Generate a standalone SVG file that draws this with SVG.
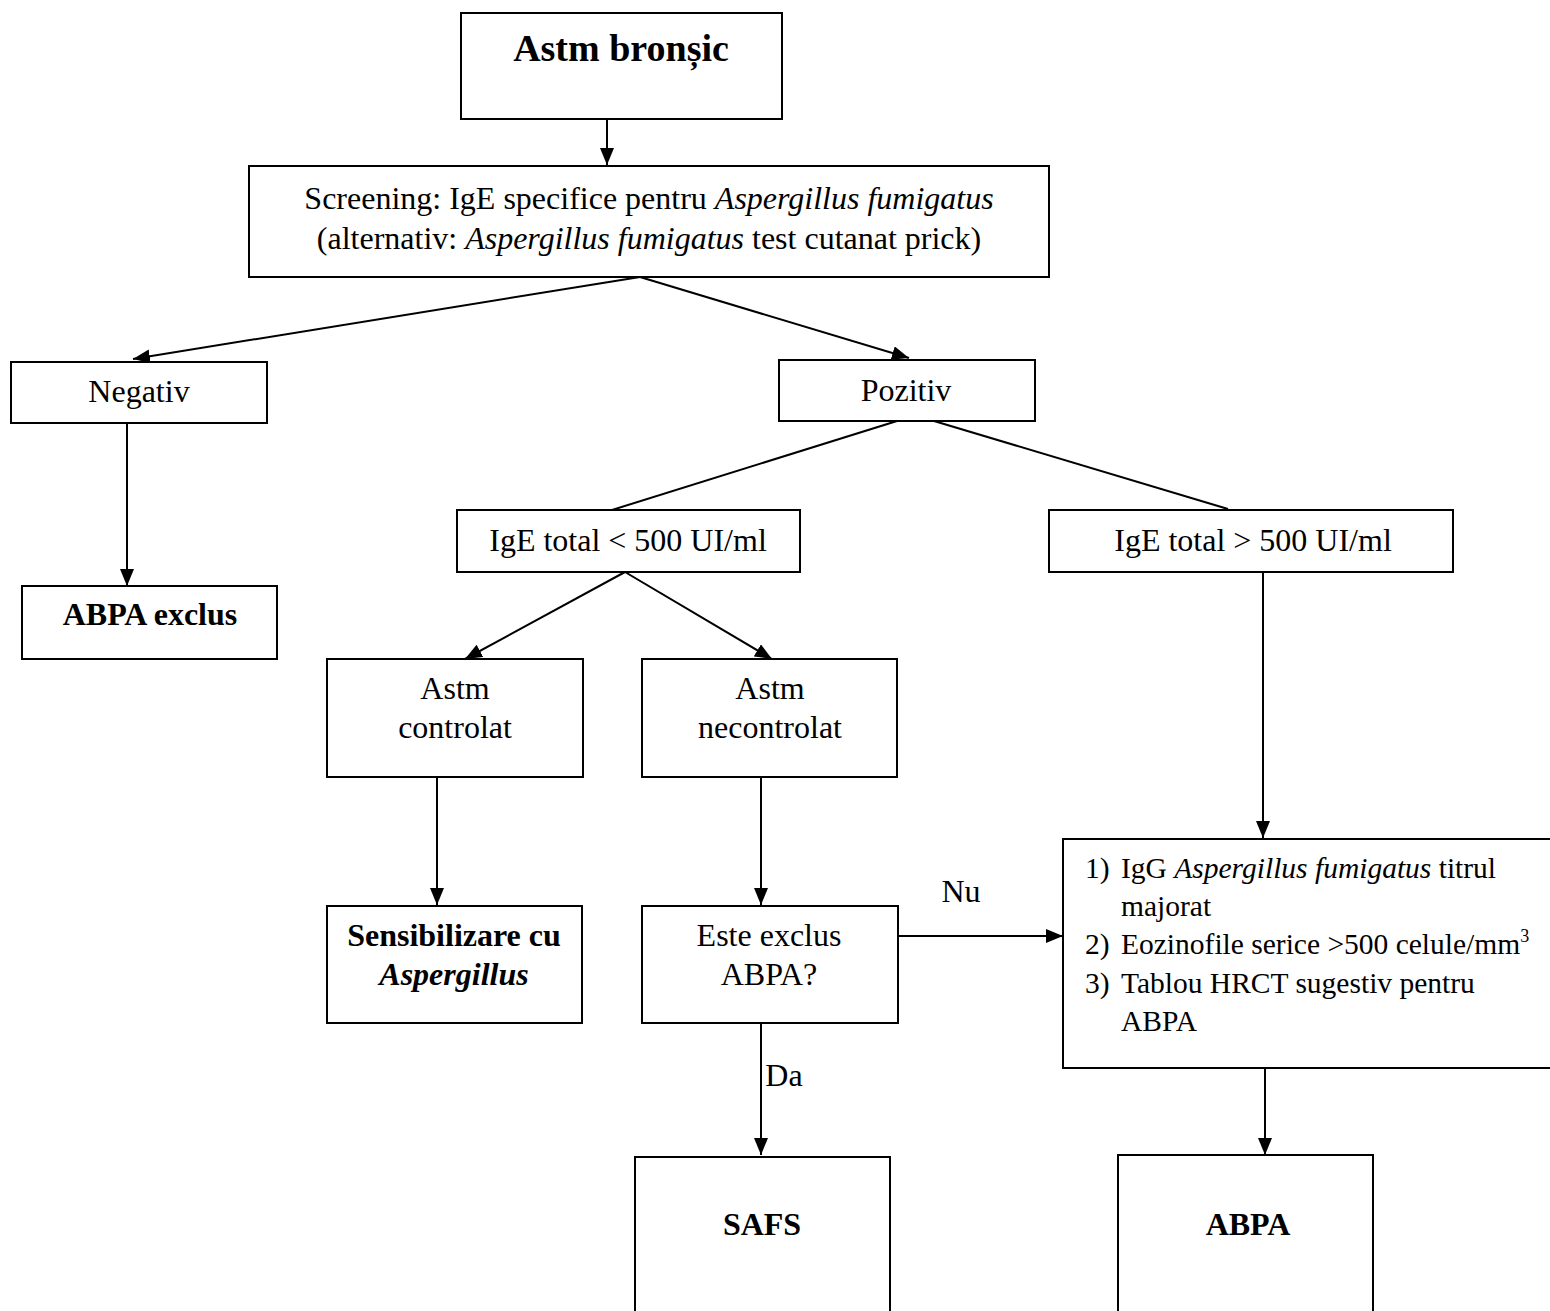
<svg xmlns="http://www.w3.org/2000/svg" width="1550" height="1311" viewBox="0 0 1550 1311">
<style>
.box{fill:#fff;stroke:#000;stroke-width:2}
.t{font-family:"Liberation Serif","Times New Roman",serif;font-size:32px;fill:#000;text-anchor:middle}
.b{font-weight:bold}
.i{font-style:italic}
.c{font-family:"Liberation Serif","Times New Roman",serif;font-size:29.5px;fill:#000}
.ln{stroke:#000;stroke-width:2;fill:none}
</style>
<defs>
<marker id="ah" markerUnits="userSpaceOnUse" markerWidth="17" markerHeight="14" refX="17" refY="7" orient="auto">
<path d="M0,0 L17,7 L0,14 z" fill="#000"/>
</marker>
</defs>
<rect width="1550" height="1311" fill="#fff"/>
<g id="connectors">
<line class="ln" x1="607" y1="119" x2="607" y2="165" marker-end="url(#ah)"/>
<line class="ln" x1="640" y1="277" x2="133" y2="359" marker-end="url(#ah)"/>
<line class="ln" x1="640" y1="277" x2="909" y2="358" marker-end="url(#ah)"/>
<line class="ln" x1="127" y1="423" x2="127" y2="586" marker-end="url(#ah)"/>
<line class="ln" x1="897" y1="421" x2="612" y2="510"/>
<line class="ln" x1="934" y1="421" x2="1228" y2="509"/>
<line class="ln" x1="625" y1="572" x2="465" y2="659" marker-end="url(#ah)"/>
<line class="ln" x1="625" y1="572" x2="772" y2="659" marker-end="url(#ah)"/>
<line class="ln" x1="437" y1="777" x2="437" y2="905" marker-end="url(#ah)"/>
<line class="ln" x1="761" y1="777" x2="761" y2="905" marker-end="url(#ah)"/>
<line class="ln" x1="1263" y1="572" x2="1263" y2="838" marker-end="url(#ah)"/>
<line class="ln" x1="897" y1="936" x2="1063" y2="936" marker-end="url(#ah)"/>
<line class="ln" x1="761" y1="1023" x2="761" y2="1155" marker-end="url(#ah)"/>
<line class="ln" x1="1265" y1="1068" x2="1265" y2="1155" marker-end="url(#ah)"/>
<text class="t" x="961" y="902">Nu</text>
<text class="t" x="784" y="1086">Da</text>
</g>
<g id="n-astm">
<rect class="box" x="461" y="13" width="321" height="106"/>
<text class="t b" x="621" y="61" style="font-size:38px">Astm bronșic</text>
</g>
<g id="n-screening">
<rect class="box" x="249" y="166" width="800" height="111"/>
<text class="t" x="649" y="209">Screening: IgE specifice pentru <tspan class="i">Aspergillus fumigatus</tspan></text>
<text class="t" x="649" y="249">(alternativ: <tspan class="i">Aspergillus fumigatus</tspan> test cutanat prick)</text>
</g>
<g id="n-negativ">
<rect class="box" x="11" y="362" width="256" height="61"/>
<text class="t" x="139" y="402">Negativ</text>
</g>
<g id="n-pozitiv">
<rect class="box" x="779" y="360" width="256" height="61"/>
<text class="t" x="906" y="401">Pozitiv</text>
</g>
<g id="n-abpa-exclus">
<rect class="box" x="22" y="586" width="255" height="73"/>
<text class="t b" x="150" y="625">ABPA exclus</text>
</g>
<g id="n-ige-low">
<rect class="box" x="457" y="510" width="343" height="62"/>
<text class="t" x="628" y="551">IgE total &lt; 500 UI/ml</text>
</g>
<g id="n-ige-high">
<rect class="box" x="1049" y="510" width="404" height="62"/>
<text class="t" x="1253" y="551">IgE total &gt; 500 UI/ml</text>
</g>
<g id="n-controlat">
<rect class="box" x="327" y="659" width="256" height="118"/>
<text class="t" x="455" y="699">Astm</text>
<text class="t" x="455" y="738">controlat</text>
</g>
<g id="n-necontrolat">
<rect class="box" x="642" y="659" width="255" height="118"/>
<text class="t" x="770" y="699">Astm</text>
<text class="t" x="770" y="738">necontrolat</text>
</g>
<g id="n-sensibilizare">
<rect class="box" x="327" y="906" width="255" height="117"/>
<text class="t b" x="454" y="946">Sensibilizare cu</text>
<text class="t b i" x="454" y="985">Aspergillus</text>
</g>
<g id="n-este-exclus">
<rect class="box" x="642" y="906" width="256" height="117"/>
<text class="t" x="769" y="946">Este exclus</text>
<text class="t" x="769" y="985">ABPA?</text>
</g>
<g id="n-criterii">
<path class="ln" d="M1560,839 H1063 V1068 H1560"/>
<text class="c" x="1085" y="878">1)</text>
<text class="c" x="1121" y="878">IgG <tspan class="i">Aspergillus fumigatus</tspan> titrul</text>
<text class="c" x="1121" y="916">majorat</text>
<text class="c" x="1085" y="954">2)</text>
<text class="c" x="1121" y="954">Eozinofile serice &gt;500 celule/mm<tspan dy="-12" style="font-size:18px">3</tspan></text>
<text class="c" x="1085" y="993">3)</text>
<text class="c" x="1121" y="993">Tablou HRCT sugestiv pentru</text>
<text class="c" x="1121" y="1031">ABPA</text>
</g>
<g id="n-safs">
<path class="ln" d="M635,1320 V1157 H890 V1320"/>
<text class="t b" x="762" y="1235">SAFS</text>
</g>
<g id="n-abpa">
<path class="ln" d="M1118,1320 V1155 H1373 V1320"/>
<text class="t b" x="1248" y="1235">ABPA</text>
</g>
</svg>
